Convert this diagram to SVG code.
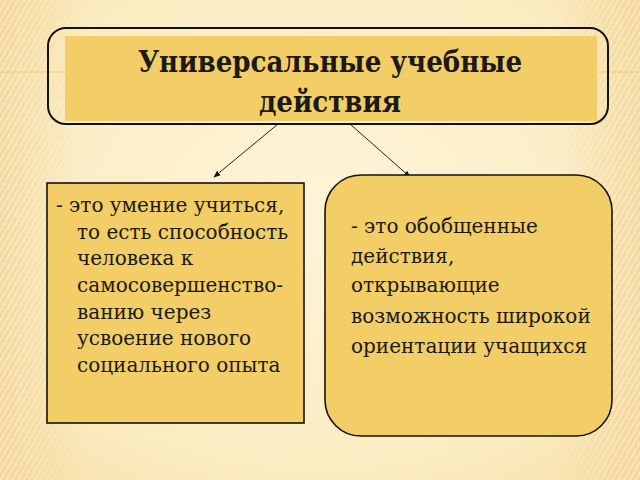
<svg xmlns="http://www.w3.org/2000/svg" width="640" height="480" viewBox="0 0 640 480">
<defs>
<style>
.box{fill:#f3cd66;stroke:#111;stroke-width:1.6}
.frame{fill:none;stroke:#111;stroke-width:2}
.t{font-family:"DejaVu Serif","Liberation Serif",serif;font-size:20px;fill:#1a1a1a}
.title{font-family:"DejaVu Serif","Liberation Serif",serif;font-size:29px;font-stretch:condensed;font-weight:bold;fill:#1a1a1a;text-anchor:middle}
.conn{stroke:#222;stroke-width:1;fill:none}
</style>
<radialGradient id="bg" cx="0.5" cy="0.45" r="0.75">
<stop offset="0" stop-color="#fdf4d8"/>
<stop offset="0.7" stop-color="#fbecc2"/>
<stop offset="1" stop-color="#f7dfa6"/>
</radialGradient>
<pattern id="stripes" width="5" height="5" patternUnits="userSpaceOnUse" patternTransform="rotate(30)">
<rect width="5" height="5" fill="#f3d699"/>
<line x1="0" y1="0" x2="0" y2="5" stroke="#fffaf0" stroke-width="1.6"/>
</pattern>
<linearGradient id="edgeL" x1="0" y1="0" x2="1" y2="0">
<stop offset="0" stop-color="#fff" stop-opacity="0.9"/>
<stop offset="1" stop-color="#fff" stop-opacity="0"/>
</linearGradient>
<linearGradient id="edgeR" x1="0" y1="0" x2="1" y2="0">
<stop offset="0" stop-color="#fff" stop-opacity="0"/>
<stop offset="1" stop-color="#fff" stop-opacity="0.9"/>
</linearGradient>
<mask id="mL"><rect x="0" y="0" width="80" height="480" fill="url(#edgeL)"/></mask>
<mask id="mR"><rect x="560" y="0" width="80" height="480" fill="url(#edgeR)"/></mask>
<marker id="arr" viewBox="0 0 10 10" refX="9" refY="5" markerWidth="7" markerHeight="7" orient="auto" markerUnits="userSpaceOnUse">
<path d="M0,1 L10,5 L0,9 z" fill="#111"/>
</marker>
</defs>
<rect width="640" height="480" fill="url(#bg)"/>
<rect x="0" y="0" width="80" height="480" fill="url(#stripes)" mask="url(#mL)"/>
<rect x="560" y="0" width="80" height="480" fill="url(#stripes)" mask="url(#mR)"/>
<line x1="0" y1="72" x2="640" y2="72" stroke="#f0b860" stroke-width="1" opacity="0.6"/>

<g id="connectors">
<line class="conn" x1="278" y1="124" x2="214" y2="177" marker-end="url(#arr)"/>
<line class="conn" x1="350" y1="124" x2="410" y2="177" marker-end="url(#arr)"/>
</g>

<g id="node-title">
<rect x="65" y="36" width="532" height="85" fill="#f3cd66"/>
<rect class="frame" x="48" y="28" width="560" height="96" rx="18"/>
<text class="title" x="330" y="72">Универсальные учебные</text>
<text class="title" x="330" y="112">действия</text>
</g>

<g id="node-left">
<rect class="box" x="47" y="183" width="257" height="240"/>
<text class="t" x="56" y="212">-  это умение учиться,</text>
<text class="t" x="77" y="239">то есть способность</text>
<text class="t" x="77" y="265">человека к</text>
<text class="t" x="77" y="292">самосовершенство-</text>
<text class="t" x="77" y="319">ванию через</text>
<text class="t" x="77" y="345">усвоение нового</text>
<text class="t" x="77" y="372">социального опыта</text>
</g>

<g id="node-right">
<rect class="box" x="325" y="175" width="287" height="261" rx="36"/>
<text class="t" x="351" y="233">- это обобщенные</text>
<text class="t" x="351" y="263">действия,</text>
<text class="t" x="351" y="292">открывающие</text>
<text class="t" x="351" y="323">возможность широкой</text>
<text class="t" x="351" y="353">ориентации учащихся</text>
</g>
</svg>
